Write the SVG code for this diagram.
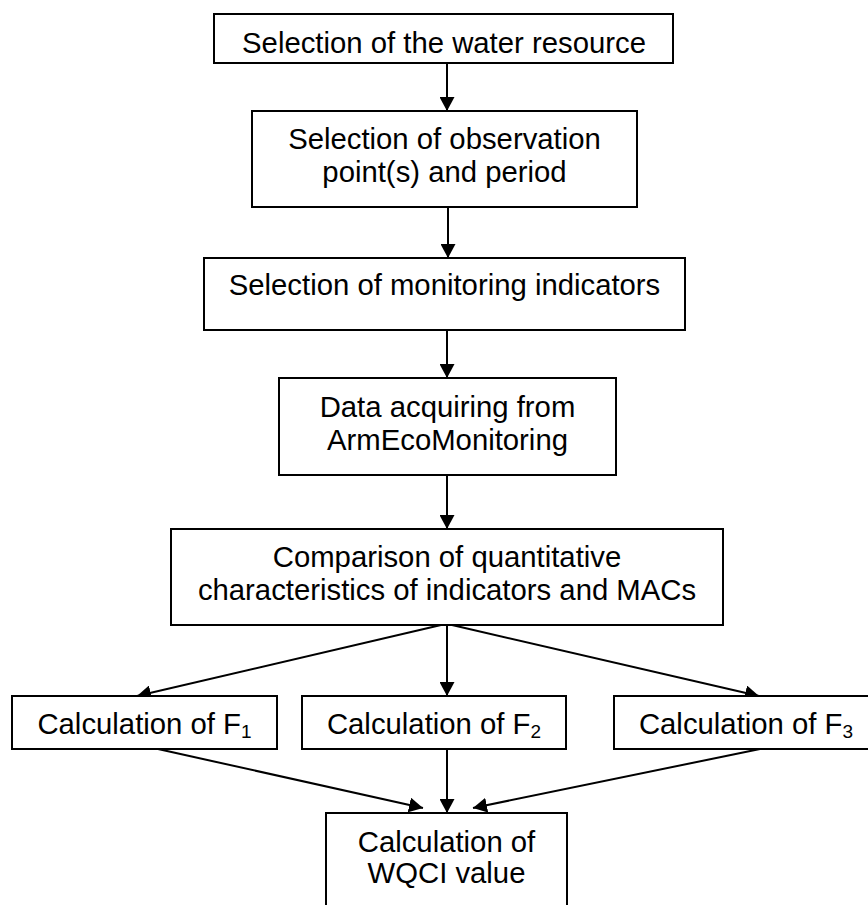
<svg xmlns="http://www.w3.org/2000/svg" width="868" height="905" viewBox="0 0 868 905">
  <style>
    .box { fill: #ffffff; stroke: #000000; stroke-width: 2; }
    .lbl { font-family: "Liberation Sans", Arial, sans-serif; font-size: 29.3px; fill: #000000; text-anchor: middle; }
    .sub { font-size: 19px; }
    .conn { stroke: #000000; stroke-width: 2; fill: none; marker-end: url(#arrow); }
  </style>
  <defs>
    <marker id="arrow" markerUnits="userSpaceOnUse" markerWidth="15" markerHeight="15" refX="14" refY="7.5" orient="auto">
      <path d="M0,0 L14,7.5 L0,15 z" fill="#000000"/>
    </marker>
  </defs>
  <rect width="868" height="905" fill="#ffffff"/>

  <g id="connectors">
    <line class="conn" x1="447" y1="63" x2="447" y2="111"/>
    <line class="conn" x1="448" y1="207" x2="448" y2="258"/>
    <line class="conn" x1="447" y1="330" x2="447" y2="378"/>
    <line class="conn" x1="447" y1="475" x2="447" y2="529"/>
    <line class="conn" x1="447" y1="625" x2="447" y2="696"/>
    <line class="conn" x1="441" y1="625" x2="137" y2="696"/>
    <line class="conn" x1="452" y1="625" x2="759" y2="696"/>
    <line class="conn" x1="158" y1="749" x2="423" y2="808"/>
    <line class="conn" x1="447" y1="749" x2="447" y2="813"/>
    <line class="conn" x1="760" y1="749" x2="473" y2="808"/>
  </g>

  <g id="n-water-resource">
    <rect class="box" x="214" y="14" width="459" height="49"/>
    <text class="lbl" x="444" y="53">Selection of the water resource</text>
  </g>

  <g id="n-observation">
    <rect class="box" x="252" y="111" width="385" height="96"/>
    <text class="lbl" x="444.5" y="149">Selection of observation</text>
    <text class="lbl" x="444.5" y="182">point(s) and period</text>
  </g>

  <g id="n-indicators">
    <rect class="box" x="204" y="258" width="481" height="72"/>
    <text class="lbl" x="444.5" y="295">Selection of monitoring indicators</text>
  </g>

  <g id="n-data">
    <rect class="box" x="279" y="378" width="337" height="97"/>
    <text class="lbl" x="447.5" y="417">Data acquiring from</text>
    <text class="lbl" x="447.5" y="450">ArmEcoMonitoring</text>
  </g>

  <g id="n-comparison">
    <rect class="box" x="171" y="529" width="552" height="96"/>
    <text class="lbl" x="447" y="567">Comparison of quantitative</text>
    <text class="lbl" x="447" y="600">characteristics of indicators and MACs</text>
  </g>

  <g id="n-f1">
    <rect class="box" x="12" y="696" width="265" height="53"/>
    <text class="lbl" x="144.5" y="734">Calculation of F<tspan class="sub" dy="4">1</tspan></text>
  </g>

  <g id="n-f2">
    <rect class="box" x="302" y="696" width="264" height="53"/>
    <text class="lbl" x="434" y="734">Calculation of F<tspan class="sub" dy="4">2</tspan></text>
  </g>

  <g id="n-f3">
    <rect class="box" x="614" y="696" width="266" height="53"/>
    <text class="lbl" x="746" y="734">Calculation of F<tspan class="sub" dy="4">3</tspan></text>
  </g>

  <g id="n-wqci">
    <rect class="box" x="326" y="813" width="241" height="110"/>
    <text class="lbl" x="446.5" y="852">Calculation of</text>
    <text class="lbl" x="446.5" y="883">WQCI value</text>
  </g>
</svg>
